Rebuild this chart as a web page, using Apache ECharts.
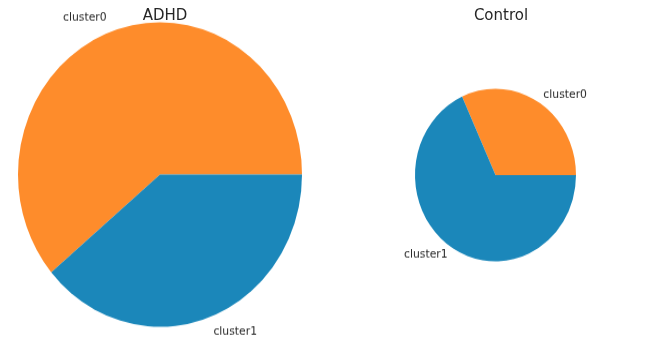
<!DOCTYPE html>
<html>
<head>
<meta charset="utf-8">
<script src="https://cdn.jsdelivr.net/npm/echarts@6/dist/echarts.min.js"></script>
<style>
  html, body { margin: 0; padding: 0; background: #fff; overflow: hidden; width: 653px; height: 349px; }
  #pies { position: absolute; left: 0; top: 0; width: 653px; height: 349px;
          transform: scaleY(1.072); transform-origin: 0 174.5px; }
  #titles { position: absolute; left: 0; top: 0; width: 653px; height: 349px; }
</style>
</head>
<body>
<div id="pies"></div>
<div id="titles"></div>
<script>
const categories = ['cluster0', 'cluster1'];
const adhdValues = [11, 7];
const controlValues = [7, 15];
const panelTitles = ['ADHD', 'Control'];

const colors = ['#fe8c2b', '#1b87ba'];
const font = 'DejaVu Sans, sans-serif';

function pieSeries(values, center, radius) {
  return {
    type: 'pie',
    center: center,
    radius: radius,
    startAngle: 0,
    clockwise: false,
    silent: true,
    avoidLabelOverlap: false,
    data: categories.map((c, i) => ({ name: c, value: values[i], itemStyle: { color: colors[i] } })),
    label: {
      show: true, position: 'outside', formatter: '{b}',
      distanceToLabelLine: 0,
      fontSize: 10.8, fontFamily: font, color: '#262626'
    },
    labelLine: { show: false, length: radius * 0.1, length2: 0 },
    itemStyle: { borderWidth: 0 },
    emphasis: { disabled: true }
  };
}

const pies = echarts.init(document.getElementById('pies'), null, { renderer: 'canvas' });
pies.setOption({
  animation: false,
  series: [
    pieSeries(adhdValues, [160, 174.5], 142),
    pieSeries(controlValues, [495.5, 175], 80.5)
  ]
});

const titles = echarts.init(document.getElementById('titles'), null, { renderer: 'canvas' });
titles.setOption({
  animation: false,
  title: [
    { text: panelTitles[0], left: 160, top: 4, textAlign: 'center',
      textStyle: { fontSize: 15, fontWeight: 'normal', fontFamily: font, color: '#262626' } },
    { text: panelTitles[1], left: 496, top: 4, textAlign: 'center',
      textStyle: { fontSize: 15, fontWeight: 'normal', fontFamily: font, color: '#262626' } }
  ]
});
</script>
</body>
</html>
